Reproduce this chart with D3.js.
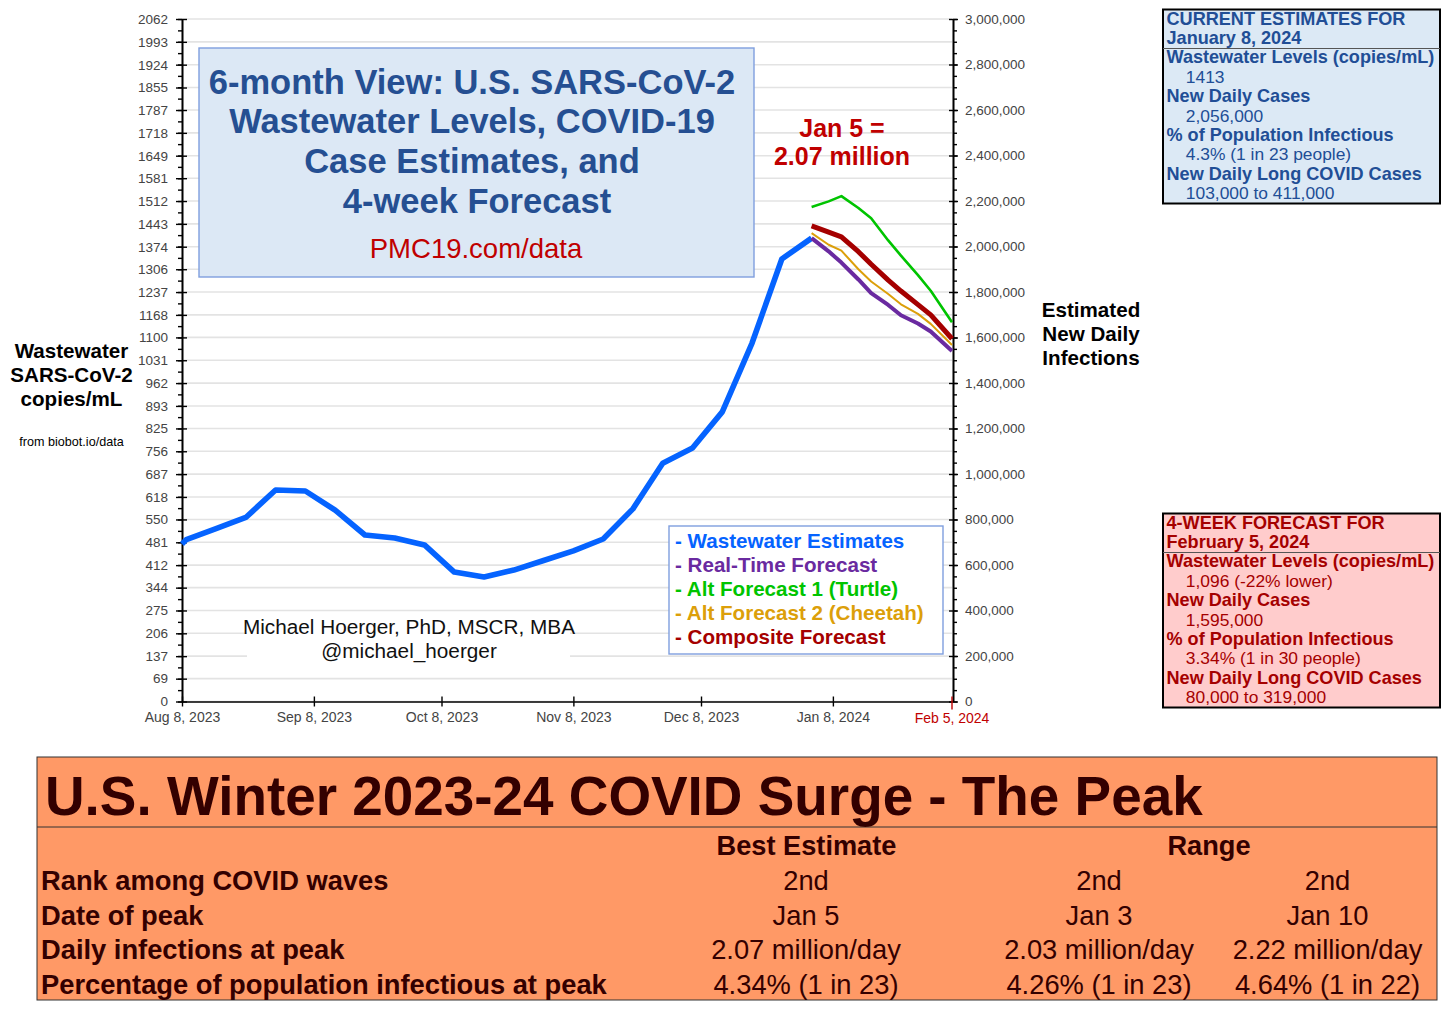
<!DOCTYPE html>
<html>
<head>
<meta charset="utf-8">
<script src="https://cdn.jsdelivr.net/npm/d3@7"></script>
<style>
  body { margin: 0; background: #fff; }
  svg { display: block; }
  text { font-family: "Liberation Sans", Arial, sans-serif; }
</style>
</head>
<body>
<svg id="chart" width="1456" height="1013"></svg>
<script>
// weekly wastewater readings (copies/mL)
var waterDates = ["2023-08-08","2023-08-09","2023-08-16","2023-08-23","2023-08-30","2023-09-06","2023-09-13","2023-09-20","2023-09-27","2023-10-04","2023-10-11","2023-10-18","2023-10-25","2023-11-01","2023-11-08","2023-11-15","2023-11-22","2023-11-29","2023-12-06","2023-12-13","2023-12-20","2023-12-27","2024-01-03"];
var waterValues = [476,489,522,556,639,636,578,503,494,473,391,376,397,426,455,491,582,720,766,875,1083,1337,1400];

// forecasts start at the last reading
var forecastDates = ["2024-01-03","2024-01-07","2024-01-10","2024-01-14","2024-01-17","2024-01-21","2024-01-24","2024-01-28","2024-01-31","2024-02-05"];
var realTimeValues = [1400,1360,1326,1275,1234,1198,1167,1142,1118,1059];
var turtleValues = [1494,1511,1527,1491,1460,1393,1347,1288,1241,1146];
var cheetahValues = [1415,1380,1362,1306,1269,1231,1200,1171,1141,1077];
var compositeValues = [1437,1418,1404,1359,1321,1273,1240,1199,1168,1096];

var leftTicks = [0,69,137,206,275,344,412,481,550,618,687,756,825,893,962,1031,1100,1168,1237,1306,1374,1443,1512,1581,1649,1718,1787,1855,1924,1993,2062];
var rightTicks = [0,200000,400000,600000,800000,1000000,1200000,1400000,1600000,1800000,2000000,2200000,2400000,2600000,2800000,3000000];
var dateTicks = ["2023-08-08","2023-09-08","2023-10-08","2023-11-08","2023-12-08","2024-01-08"];
var lastDate = "2024-02-05";

var legendLabels = ["- Wastewater Estimates","- Real-Time Forecast","- Alt Forecast 1 (Turtle)","- Alt Forecast 2 (Cheetah)","- Composite Forecast"];
var legendColors = ["#0563ff","#6a2aa0","#00c400","#dc9f0a","#a50000"];

var titleLines = ["6-month View: U.S. SARS-CoV-2","Wastewater Levels, COVID-19","Case Estimates, and","4-week Forecast"];

var currentLines = [
  ["CURRENT ESTIMATES FOR",1],["January 8, 2024",1],
  ["Wastewater Levels (copies/mL)",1],["    1413",0],
  ["New Daily Cases",1],["    2,056,000",0],
  ["% of Population Infectious",1],["    4.3% (1 in 23 people)",0],
  ["New Daily Long COVID Cases",1],["    103,000 to 411,000",0]
];
var forecastLines = [
  ["4-WEEK FORECAST FOR",1],["February 5, 2024",1],
  ["Wastewater Levels (copies/mL)",1],["    1,096 (-22% lower)",0],
  ["New Daily Cases",1],["    1,595,000",0],
  ["% of Population Infectious",1],["    3.34% (1 in 30 people)",0],
  ["New Daily Long COVID Cases",1],["    80,000 to 319,000",0]
];

var peakRows = ["Rank among COVID waves","Date of peak","Daily infections at peak","Percentage of population infectious at peak"];
var peakBest = ["2nd","Jan 5","2.07 million/day","4.34% (1 in 23)"];
var peakLow = ["2nd","Jan 3","2.03 million/day","4.26% (1 in 23)"];
var peakHigh = ["2nd","Jan 10","2.22 million/day","4.64% (1 in 22)"];

var parse = d3.timeParse("%Y-%m-%d");
var fmtDate = d3.timeFormat("%b %-d, %Y");
var svg = d3.select("#chart");

var x = d3.scaleTime().domain([parse("2023-08-08"), parse(lastDate)]).range([182, 952]);
var yLeft = d3.scaleLinear().domain([0, 2062]).range([701.5, 19]);
var yRight = d3.scaleLinear().domain([0, 3000000]).range([701.5, 19]);

// gridlines sit behind everything
svg.append("g").selectAll("line").data(leftTicks).enter().append("line")
  .attr("x1", 182).attr("x2", 952)
  .attr("y1", function(d) { return yLeft(d); })
  .attr("y2", function(d) { return yLeft(d); })
  .attr("stroke", "#e3e3e3").attr("stroke-width", 1.6);

function styleAxis(g, fontSize) {
  g.select(".domain").attr("stroke", "#000").attr("stroke-width", 1.6);
  g.selectAll(".tick line").attr("stroke", "#000").attr("stroke-width", 1.4);
  g.selectAll("text").attr("fill", "#444").style("font-size", fontSize + "px")
    .style("font-family", '"Liberation Sans", Arial, sans-serif');
}

// minor ticks every 50,000 on both sides
var minorTicks = d3.range(0, 3000001, 50000);
svg.append("g").attr("transform", "translate(182,0)")
  .call(d3.axisLeft(yRight).tickValues(minorTicks).tickSize(4).tickFormat("").tickSizeOuter(0))
  .call(styleAxis, 13);
svg.append("g").attr("transform", "translate(953,0)")
  .call(d3.axisRight(yRight).tickValues(minorTicks).tickSize(4).tickFormat("").tickSizeOuter(0))
  .call(styleAxis, 13);

var leftAxis = svg.append("g").attr("transform", "translate(182,0)")
  .call(d3.axisLeft(yLeft).tickValues(leftTicks).tickSize(6).tickPadding(8).tickSizeOuter(0).tickFormat(d3.format("d")));
styleAxis(leftAxis, 13.5);
leftAxis.selectAll(".tick").append("line").attr("x2", 5).attr("stroke", "#000").attr("stroke-width", 1.4);

var rightAxis = svg.append("g").attr("transform", "translate(953,0)")
  .call(d3.axisRight(yRight).tickValues(rightTicks).tickSize(5).tickPadding(7).tickSizeOuter(0).tickFormat(d3.format(",")));
styleAxis(rightAxis, 13.5);
rightAxis.selectAll(".tick").append("line").attr("x2", -4).attr("stroke", "#000").attr("stroke-width", 1.4);

var bottomAxis = svg.append("g").attr("transform", "translate(0,701.5)")
  .call(d3.axisBottom(x).tickValues(dateTicks.map(parse)).tickSize(5).tickPadding(6).tickSizeOuter(0).tickFormat(fmtDate));
styleAxis(bottomAxis, 14);
bottomAxis.selectAll(".tick").append("line").attr("y2", -5).attr("stroke", "#000").attr("stroke-width", 1.4);

// end date is the forecast target, drawn red
var endTick = svg.append("g").attr("transform", "translate(" + x(parse(lastDate)) + ",701.5)");
endTick.append("line").attr("y1", -5).attr("y2", 8).attr("stroke", "#c00000").attr("stroke-width", 1.4);
endTick.append("text").attr("y", 21).attr("text-anchor", "middle").attr("fill", "#c00000")
  .style("font-size", "14px").text(fmtDate(parse(lastDate)));

var line = d3.line()
  .x(function(d) { return x(d.date); })
  .y(function(d) { return yLeft(d.value); });

function zipSeries(dates, values) {
  return dates.map(function(d, i) { return {date: parse(d), value: values[i]}; });
}

function drawSeries(dates, values, color, width) {
  svg.append("path").datum(zipSeries(dates, values))
    .attr("d", line).attr("fill", "none")
    .attr("stroke", color).attr("stroke-width", width).attr("stroke-linejoin", "round");
}

drawSeries(waterDates, waterValues, legendColors[0], 5.6);
drawSeries(forecastDates, turtleValues, legendColors[2], 2.6);
drawSeries(forecastDates, compositeValues, legendColors[4], 5);
drawSeries(forecastDates, realTimeValues, legendColors[1], 4);
drawSeries(forecastDates, cheetahValues, legendColors[3], 2);

function box(x0, y0, w, h, fill, stroke, sw) {
  svg.append("rect").attr("x", x0).attr("y", y0).attr("width", w).attr("height", h)
    .attr("fill", fill).attr("stroke", stroke).attr("stroke-width", sw);
}

function label(txt, px, py, size, color, bold, anchor) {
  svg.append("text").attr("x", px).attr("y", py)
    .attr("text-anchor", anchor || "middle").attr("fill", color)
    .attr("font-weight", bold ? "bold" : "normal")
    .style("font-size", size + "px").style("white-space", "pre").text(txt);
}

// title box
box(199, 48, 555, 229, "#dce8f5", "#7f9fdf", 1.4);
titleLines.forEach(function(t, i) {
  label(t, [472, 472, 472, 477][i], 93.5 + i * 39.9, 34.5, "#254f92", true);
});
label("PMC19.com/data", 476, 258, 27.5, "#c00000", false);

// peak callout
label("Jan 5 =", 842, 137, 25, "#c00000", true);
label("2.07 million", 842, 165, 25, "#c00000", true);

// credit, white backing hides the gridlines
svg.append("rect").attr("x", 247).attr("y", 614).attr("width", 323).attr("height", 48).attr("fill", "#fff");
label("Michael Hoerger, PhD, MSCR, MBA", 409, 634, 20.75, "#111", false);
label("@michael_hoerger", 409, 658, 20.75, "#111", false);

// legend
box(669, 526, 274, 128, "#fff", "#7f9fdf", 1.4);
legendLabels.forEach(function(t, i) {
  label(t, 675, 548 + i * 24, 20.6, legendColors[i], true, "start");
});

// axis titles
["Wastewater","SARS-CoV-2","copies/mL"].forEach(function(t, i) {
  label(t, 71.5, 358 + i * 24, 20.6, "#000", true);
});
label("from biobot.io/data", 71.5, 446, 12.6, "#000", false);
["Estimated","New Daily","Infections"].forEach(function(t, i) {
  label(t, 1091, 317 + i * 24, 20.6, "#000", true);
});

// side panels
function panel(y0, fill, color, lines) {
  box(1163, y0, 277, 194, fill, "#000", 2);
  svg.append("line").attr("x1", 1163).attr("x2", 1440)
    .attr("y1", y0 + 39).attr("y2", y0 + 39).attr("stroke", "#555").attr("stroke-width", 1);
  lines.forEach(function(l, i) {
    label(l[0], 1166.5, y0 + 15 + i * 19.4, l[1] === 1 ? 18.1 : 17.4, color, l[1] === 1, "start");
  });
}
panel(9.5, "#dce9f5", "#214e96", currentLines);
panel(513.5, "#ffcccc", "#a50000", forecastLines);

// bottom table
box(37, 757, 1400, 243, "#ff9966", "#333", 1);
svg.append("line").attr("x1", 37).attr("x2", 1437).attr("y1", 827).attr("y2", 827).attr("stroke", "#333");
label("U.S. Winter 2023-24 COVID Surge - The Peak", 45, 815, 54.85, "#330000", true, "start");
label("Best Estimate", 806.5, 855, 27.2, "#330000", true);
label("Range", 1209, 855, 27.2, "#330000", true);
peakRows.forEach(function(t, i) {
  var rowY = 890 + i * 34.7;
  label(t, 41, rowY, 27.3, "#330000", true, "start");
  label(peakBest[i], 806, rowY, 27.3, "#330000", false);
  label(peakLow[i], 1099, rowY, 27.3, "#330000", false);
  label(peakHigh[i], 1327.5, rowY, 27.3, "#330000", false);
});
</script>
</body>
</html>
